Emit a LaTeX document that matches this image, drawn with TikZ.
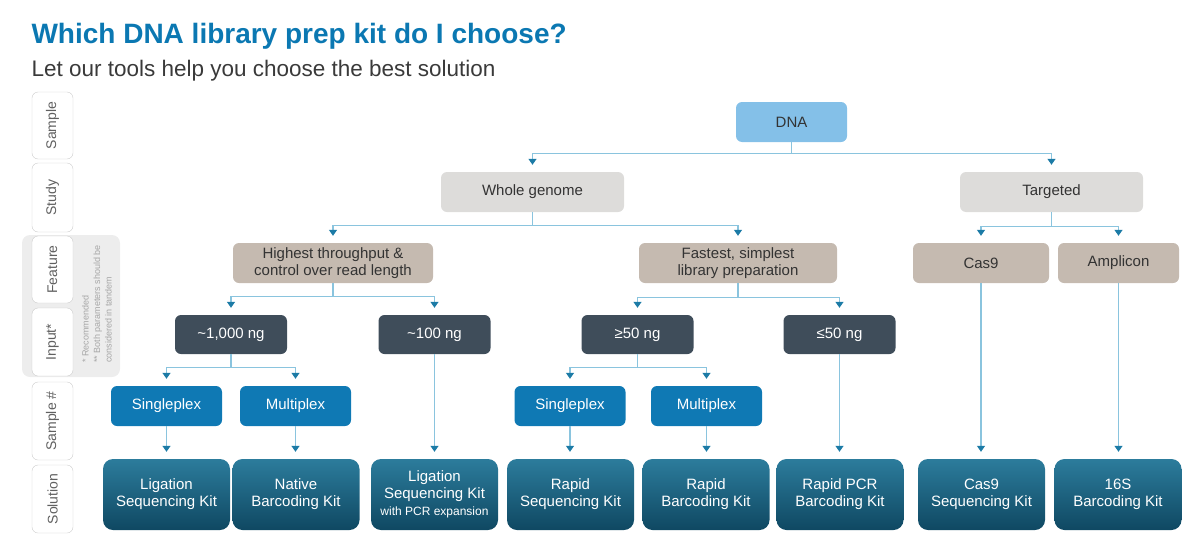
\documentclass[tikz,border=0pt]{standalone}
\usepackage{fontspec}
\setmainfont{Liberation Sans}
\usetikzlibrary{arrows.meta}
\definecolor{titleblue}{HTML}{0B78B2}
\definecolor{subgray}{HTML}{3A3A3A}
\definecolor{dnablue}{HTML}{84C0E8}
\definecolor{studygray}{HTML}{DDDCDA}
\definecolor{featuretaupe}{HTML}{C5BAB0}
\definecolor{inputslate}{HTML}{3F4D5A}
\definecolor{plexblue}{HTML}{0F79B4}
\definecolor{kittop}{HTML}{2C7C9C}
\definecolor{kitbottom}{HTML}{0F4862}
\definecolor{linkblue}{HTML}{8AC4DE}
\definecolor{tipblue}{HTML}{1C7BA6}
\definecolor{panelgray}{HTML}{EDEDED}

\begin{document}
\begin{tikzpicture}[x=1pt,y=-1pt,
	box/.style={rounded corners=6pt, align=center, inner sep=0pt, minimum height=40,
		font=\fontsize{15}{17}\selectfont},
	dnabox/.style={box, fill=dnablue, text=black!80},
	studybox/.style={box, fill=studygray, text=black!80, minimum width=183},
	featurebox/.style={box, fill=featuretaupe, text=black!80},
	inputbox/.style={box, fill=inputslate, text=white, minimum width=112, minimum height=39},
	plexbox/.style={box, fill=plexblue, text=white, minimum width=111},
	kitbox/.style={box, rounded corners=10pt, top color=kittop, bottom color=kitbottom,
		text=white, minimum width=127, minimum height=71},
	rowlabel/.style={draw=gray!40, rounded corners=6pt, fill=white, rotate=90, inner sep=0pt,
		text=gray!75!black, minimum height=41, font=\fontsize{14}{16}\selectfont},
	link/.style={draw=linkblue, line width=1.2pt, shorten >=7pt,
		-{Triangle[width=8pt,length=6pt,color=tipblue]}}]
	\useasboundingbox (0,0) rectangle (1200,536);

	% title
	\node[anchor=base west, text=titleblue, font=\fontsize{28}{32}\selectfont\bfseries](title) at (28,43){Which DNA library prep kit do I choose?};
	\node[anchor=base west, text=subgray, font=\fontsize{22.5}{26}\selectfont](subtitle) at (28,76){Let our tools help you choose the best solution};

	% row labels
	\fill[panelgray, rounded corners=8pt] (22,235) rectangle (120,377);
	\node[rowlabel, minimum width=67](lsample) at (52.5,125.5){Sample};
	\node[rowlabel, minimum width=69](lstudy) at (52.5,197.5){Study};
	\node[rowlabel, minimum width=67](lfeature) at (52.5,269.5){Feature};
	\node[rowlabel, minimum width=68](linput) at (52.5,342){Input*};
	\node[rowlabel, minimum width=78](lplex) at (52.5,421){Sample \#};
	\node[rowlabel, minimum width=68](lsolution) at (52.5,499){Solution};
	\node[rotate=90, anchor=north west, align=left, inner sep=0pt, text=gray!70,
		font=\fontsize{9}{11.5}\selectfont](note) at (82,363){* Recommended\\** Both parameters should be\\considered in tandem};

	% tree
	\node[dnabox, minimum width=111](dna) at (791.5,122){DNA};
	\node[studybox](whole) at (532.5,192){Whole genome};
	\node[studybox](targeted) at (1051.5,192){Targeted};
	\node[featurebox, minimum width=200](highest) at (333,263){Highest throughput \&\\control over read length};
	\node[featurebox, minimum width=198](fastest) at (738,263){Fastest, simplest\\library preparation};
	\node[featurebox, minimum width=136](cas9) at (981,263){Cas9};
	\node[featurebox, minimum width=121](amplicon) at (1118.5,263){Amplicon};
	\node[inputbox](ng1000) at (231,334.5){\textasciitilde1,000 ng};
	\node[inputbox](ng100) at (434.5,334.5){\textasciitilde100 ng};
	\node[inputbox](ge50) at (637.5,334.5){≥50 ng};
	\node[inputbox](le50) at (839.5,334.5){≤50 ng};
	\node[plexbox](single1) at (166.5,406){Singleplex};
	\node[plexbox](multi1) at (295.5,406){Multiplex};
	\node[plexbox](single2) at (570,406){Singleplex};
	\node[plexbox](multi2) at (706.5,406){Multiplex};
	\node[kitbox](ligation) at (166.5,494.5){Ligation\\Sequencing Kit};
	\node[kitbox](native) at (296,494.5){Native\\Barcoding Kit};
	\node[kitbox](ligpcr) at (434.5,494.5){Ligation\\Sequencing Kit\\{\fontsize{12}{13}\selectfont with PCR expansion}};
	\node[kitbox](rapidseq) at (570.5,494.5){Rapid\\Sequencing Kit};
	\node[kitbox](rapidbar) at (706,494.5){Rapid\\Barcoding Kit};
	\node[kitbox](rapidpcr) at (840,494.5){Rapid PCR\\Barcoding Kit};
	\node[kitbox](cas9seq) at (981.5,494.5){Cas9\\Sequencing Kit};
	\node[kitbox](barcode16s) at (1118,494.5){16S\\Barcoding Kit};

	% connectors
	\draw[link] (dna.south) -- ++(0,11) -| (whole.north);
	\draw[link] (dna.south) -- ++(0,11) -| (targeted.north);
	\draw[link] (whole.south) -- ++(0,13) -| (highest.north);
	\draw[link] (whole.south) -- ++(0,13) -| (fastest.north);
	\draw[link] (targeted.south) -- ++(0,14) -| (cas9.north);
	\draw[link] (targeted.south) -- ++(0,14) -| (amplicon.north);
	\draw[link] (highest.south) -- ++(0,13) -| (ng1000.north);
	\draw[link] (highest.south) -- ++(0,13) -| (ng100.north);
	\draw[link] (fastest.south) -- ++(0,14) -| (ge50.north);
	\draw[link] (fastest.south) -- ++(0,14) -| (le50.north);
	\draw[link] (ng1000.south) -- ++(0,13) -| (single1.north);
	\draw[link] (ng1000.south) -- ++(0,13) -| (multi1.north);
	\draw[link] (ge50.south) -- ++(0,13) -| (single2.north);
	\draw[link] (ge50.south) -- ++(0,13) -| (multi2.north);
	\draw[link] (single1.south) -- (single1.south |- ligation.north);
	\draw[link] (multi1.south) -- (multi1.south |- native.north);
	\draw[link] (ng100.south) -- (ng100.south |- ligpcr.north);
	\draw[link] (single2.south) -- (single2.south |- rapidseq.north);
	\draw[link] (multi2.south) -- (multi2.south |- rapidbar.north);
	\draw[link] (le50.south) -- (le50.south |- rapidpcr.north);
	\draw[link] (cas9.south) -- (cas9.south |- cas9seq.north);
	\draw[link] (amplicon.south) -- (amplicon.south |- barcode16s.north);
\end{tikzpicture}
\end{document}
